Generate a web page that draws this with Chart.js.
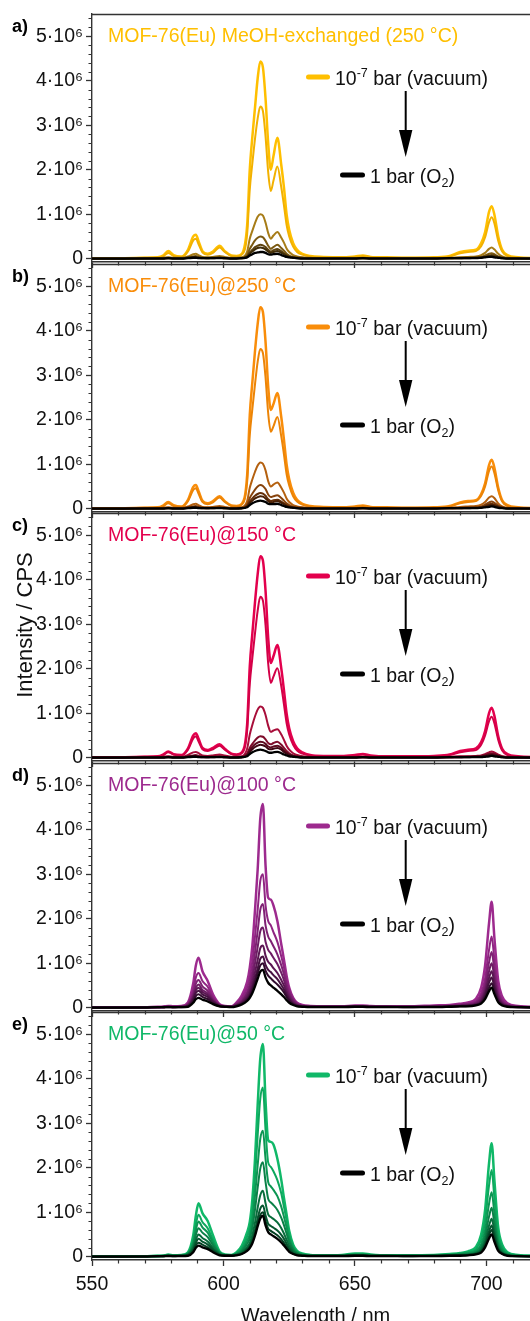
<!DOCTYPE html>
<html>
<head>
<meta charset="utf-8">
<script src="https://cdn.jsdelivr.net/npm/chart.js@4.4.1/dist/chart.umd.min.js"></script>
<style>
  html, body { margin: 0; padding: 0; background: #fff; overflow: hidden; width: 530px; height: 1321px; }
  #wrap { position: relative; width: 530px; height: 1321px; overflow: hidden; }
  #wrap canvas { position: absolute; left: 0; }
</style>
</head>
<body>
<div id="wrap"></div>
<script>
// Eu emission spectra of MOF-76(Eu), vacuum -> 1 bar O2. Intensities in 10^6 CPS.

const wavelength = [
  550, 560, 570, 575, 577, 579, 581, 584, 586.5, 588.5,
  589.5, 590.5, 592, 594, 596, 598.5, 600.5, 603, 605, 607,
  609, 610, 611, 612, 613, 614, 615, 616, 617, 618,
  619, 620.5, 622, 623, 624, 625, 626.5, 628, 630, 633,
  638, 645, 650, 653, 656, 662, 670, 680, 686, 690,
  693, 696, 698, 699.5, 701, 702, 703, 704.5, 706, 708,
  712, 720
];

const xTicks = [550, 600, 650, 700];
const xTickLabels = ['550', '600', '650', '700'];
const yTicks = [0, 1, 2, 3, 4, 5];
const yTickLabels = ['0', '1·10⁶', '2·10⁶', '3·10⁶', '4·10⁶', '5·10⁶'];

// a) MeOH-exchanged (250 °C)
const a1 = [.01,.01,.02,.03,.07,.17,.08,.05,.20,.50,
  .54,.40,.17,.11,.16,.29,.17,.07,.06,.11,
  .75,2.0,2.75,3.4,4.05,4.43,4.3,3.6,2.6,2.0,
  2.3,2.72,2.1,1.6,1.0,.65,.35,.2,.11,.06,
  .04,.03,.05,.07,.04,.03,.02,.03,.06,.15,
  .18,.2,.35,.6,1.05,1.18,1.0,.5,.2,.08,
  .03,.01];
const a2 = [.01,.01,.02,.02,.05,.13,.06,.04,.16,.41,
  .45,.33,.14,.09,.13,.25,.15,.06,.05,.09,
  .55,1.55,2.15,2.7,3.15,3.42,3.32,2.75,1.95,1.52,
  1.75,2.07,1.6,1.2,.76,.5,.27,.15,.09,.05,
  .03,.03,.04,.06,.04,.02,.02,.02,.05,.12,
  .15,.17,.28,.48,.82,.93,.8,.4,.16,.06,
  .02,.01];
const a3 = [.01,.01,.01,.01,.02,.03,.02,.02,.05,.10,
  .11,.08,.04,.03,.04,.06,.04,.02,.02,.03,
  .16,.45,.63,.8,.94,1.0,.97,.81,.58,.45,
  .52,.6,.47,.36,.23,.15,.08,.05,.03,.02,
  .01,.01,.01,.02,.01,.01,.01,.01,.02,.03,
  .04,.05,.08,.13,.22,.25,.21,.11,.05,.02,
  .01,.01];
const a4 = [.01,.01,.01,.01,.01,.02,.01,.01,.03,.05,
  .06,.04,.02,.02,.02,.03,.02,.01,.01,.02,
  .08,.22,.32,.41,.47,.5,.48,.4,.29,.22,
  .26,.31,.24,.18,.11,.07,.04,.03,.02,.01,
  .01,.01,.01,.01,.01,.01,.01,.01,.01,.02,
  .02,.03,.04,.07,.11,.12,.1,.05,.03,.01,
  .01,.01];
const a5 = [.01,.01,.01,.01,.01,.01,.01,.01,.02,.03,
  .04,.03,.02,.01,.02,.02,.01,.01,.01,.01,
  .05,.14,.2,.26,.29,.31,.3,.26,.2,.16,
  .19,.22,.17,.12,.08,.05,.03,.02,.01,.01,
  .01,.01,.01,.01,.01,.01,.01,.01,.01,.01,
  .02,.02,.03,.05,.07,.08,.07,.04,.02,.01,
  .01,.01];
const a6 = [0,0,.01,.01,.01,.01,.01,.01,.02,.03,
  .03,.02,.01,.01,.01,.02,.01,.01,.01,.01,
  .04,.11,.16,.21,.24,.25,.24,.21,.16,.13,
  .15,.17,.13,.1,.06,.04,.02,.01,.01,.01,
  .01,.01,.01,.01,.01,.01,.01,.01,.01,.01,
  .01,.02,.02,.04,.05,.06,.05,.03,.01,.01,
  .01,0];
const a7 = [0,0,0,0,0,.01,0,0,.01,.02,
  .02,.01,.01,.01,.01,.01,.01,0,0,.01,
  .03,.07,.1,.13,.14,.15,.15,.13,.1,.09,
  .1,.11,.08,.06,.04,.03,.02,.01,0,0,
  0,0,0,.01,0,0,0,0,.01,.01,
  .01,.01,.02,.03,.04,.04,.03,.02,.01,0,
  0,0];

// b) 250 °C
const b1 = [.01,.01,.02,.03,.07,.15,.08,.05,.20,.49,
  .53,.40,.18,.12,.17,.28,.17,.07,.06,.11,
  .75,2.1,2.85,3.55,4.15,4.53,4.42,3.75,2.75,2.22,
  2.35,2.6,2.05,1.55,1.0,.66,.36,.2,.11,.06,
  .04,.03,.05,.07,.04,.03,.02,.03,.06,.14,
  .17,.19,.33,.57,.98,1.1,.93,.47,.19,.08,
  .03,.01];
const b2 = [.01,.01,.02,.02,.05,.12,.06,.04,.17,.42,
  .46,.34,.15,.1,.14,.25,.15,.06,.05,.09,
  .6,1.65,2.25,2.8,3.3,3.59,3.5,2.95,2.15,1.73,
  1.85,2.06,1.62,1.22,.78,.52,.28,.16,.09,.05,
  .03,.03,.04,.06,.04,.02,.02,.02,.05,.12,
  .15,.17,.29,.5,.85,.95,.81,.41,.16,.06,
  .02,.01];
const b3 = [.01,.01,.01,.01,.02,.03,.02,.02,.05,.1,
  .11,.08,.04,.03,.04,.06,.04,.02,.02,.03,
  .17,.47,.66,.83,.97,1.04,1.01,.86,.62,.5,
  .54,.59,.47,.36,.23,.15,.08,.05,.03,.02,
  .01,.01,.01,.02,.01,.01,.01,.01,.02,.04,
  .05,.06,.09,.15,.25,.28,.24,.12,.05,.02,
  .01,.01];
const b4 = [.01,.01,.01,.01,.01,.02,.01,.01,.03,.05,
  .06,.04,.02,.02,.02,.03,.02,.01,.01,.02,
  .09,.24,.34,.43,.5,.53,.51,.44,.32,.26,
  .28,.3,.24,.18,.12,.08,.04,.03,.02,.01,
  .01,.01,.01,.01,.01,.01,.01,.01,.01,.02,
  .03,.03,.05,.09,.14,.16,.13,.07,.03,.01,
  .01,.01];
const b5 = [.01,.01,.01,.01,.01,.01,.01,.01,.02,.03,
  .04,.03,.02,.01,.02,.02,.01,.01,.01,.01,
  .06,.16,.23,.29,.33,.35,.34,.29,.21,.17,
  .19,.2,.16,.12,.08,.05,.03,.02,.01,.01,
  .01,.01,.01,.01,.01,.01,.01,.01,.01,.01,
  .02,.02,.03,.06,.1,.11,.09,.05,.02,.01,
  .01,.01];
const b6 = [0,0,.01,.01,.01,.01,.01,.01,.02,.03,
  .03,.02,.01,.01,.01,.02,.01,.01,.01,.01,
  .05,.13,.18,.23,.26,.28,.27,.23,.17,.14,
  .15,.17,.13,.1,.06,.04,.02,.01,.01,.01,
  .01,.01,.01,.01,.01,.01,.01,.01,.01,.01,
  .01,.02,.02,.04,.07,.08,.07,.04,.02,.01,
  .01,0];
const b7 = [0,0,0,0,0,.01,0,0,.01,.02,
  .02,.01,.01,.01,.01,.01,.01,0,0,.01,
  .03,.08,.12,.15,.17,.18,.17,.15,.11,.1,
  .1,.11,.08,.06,.04,.03,.02,.01,0,0,
  0,0,0,.01,0,0,0,0,.01,.01,
  .01,.01,.02,.03,.04,.05,.04,.02,.01,0,
  0,0];

// c) 150 °C
const c1 = [.01,.01,.02,.03,.07,.14,.08,.06,.21,.5,
  .55,.43,.22,.17,.22,.3,.2,.09,.07,.12,
  .75,2.05,2.8,3.5,4.12,4.53,4.43,3.75,2.7,2.13,
  2.28,2.53,2.0,1.52,1.0,.66,.37,.21,.12,.06,
  .04,.04,.06,.08,.05,.03,.03,.04,.07,.15,
  .18,.21,.35,.6,1.0,1.12,.95,.48,.2,.08,
  .03,.01];
const c2 = [.01,.01,.02,.02,.05,.12,.07,.05,.18,.43,
  .48,.37,.19,.15,.19,.27,.18,.08,.06,.1,
  .6,1.65,2.25,2.8,3.3,3.62,3.53,2.98,2.12,1.68,
  1.82,2.01,1.6,1.2,.78,.52,.29,.16,.09,.05,
  .03,.03,.05,.07,.04,.03,.02,.03,.06,.12,
  .15,.17,.29,.5,.82,.92,.78,.4,.16,.06,
  .02,.01];
const c3 = [.01,.01,.01,.01,.02,.03,.02,.02,.06,.12,
  .13,.1,.05,.04,.05,.07,.05,.02,.02,.03,
  .2,.52,.74,.93,1.08,1.15,1.12,.96,.72,.58,
  .61,.64,.52,.4,.27,.18,.1,.06,.03,.02,
  .01,.01,.01,.02,.01,.01,.01,.01,.02,.03,
  .03,.04,.05,.08,.12,.14,.12,.07,.03,.02,
  .01,.01];
const c4 = [.01,.01,.01,.01,.01,.02,.01,.01,.03,.05,
  .06,.04,.02,.02,.02,.03,.02,.01,.01,.02,
  .09,.22,.31,.39,.45,.48,.47,.41,.33,.3,
  .33,.36,.29,.22,.15,.1,.05,.03,.02,.01,
  .01,.01,.01,.01,.01,.01,.01,.01,.01,.02,
  .02,.03,.04,.06,.09,.1,.09,.05,.02,.01,
  .01,.01];
const c5 = [.01,.01,.01,.01,.01,.01,.01,.01,.02,.03,
  .04,.03,.02,.01,.02,.02,.01,.01,.01,.01,
  .07,.17,.24,.3,.34,.36,.35,.31,.25,.23,
  .25,.27,.22,.16,.11,.07,.04,.02,.01,.01,
  .01,.01,.01,.01,.01,.01,.01,.01,.01,.01,
  .02,.02,.03,.05,.07,.08,.07,.04,.02,.01,
  .01,.01];
const c6 = [0,0,.01,.01,.01,.01,.01,.01,.02,.03,
  .03,.02,.01,.01,.01,.02,.01,.01,.01,.01,
  .05,.13,.19,.24,.27,.29,.28,.25,.2,.19,
  .2,.22,.18,.13,.09,.06,.03,.02,.01,.01,
  .01,.01,.01,.01,.01,.01,.01,.01,.01,.01,
  .01,.02,.02,.04,.05,.06,.05,.03,.01,.01,
  .01,0];
const c7 = [0,0,0,0,0,.01,0,0,.01,.02,
  .02,.01,.01,.01,.01,.01,.01,0,0,.01,
  .03,.08,.12,.15,.17,.18,.17,.15,.12,.11,
  .12,.13,.1,.07,.05,.03,.02,.01,0,0,
  0,0,0,.01,0,0,0,0,.01,.01,
  .01,.01,.01,.02,.03,.04,.03,.02,.01,0,
  0,0];

// d) 100 °C
const d1 = [.01,.01,.01,.02,.02,.04,.03,.04,.12,.55,
  .95,1.12,.82,.6,.3,.08,.04,.03,.12,.28,
  .58,.9,1.4,2.2,3.1,4.25,4.58,3.2,2.47,2.43,
  2.3,1.95,1.42,1.08,.72,.45,.22,.11,.06,.04,
  .03,.03,.05,.05,.04,.03,.03,.05,.06,.09,
  .12,.2,.45,.95,1.9,2.38,1.6,.6,.25,.1,
  .04,.02];
const d2 = [.01,.01,.01,.01,.02,.03,.02,.03,.09,.4,
  .68,.78,.6,.47,.24,.07,.03,.03,.1,.22,
  .45,.68,1.05,1.6,2.2,2.85,3.0,2.3,1.95,1.85,
  1.7,1.48,1.15,.9,.62,.4,.2,.1,.05,.03,
  .03,.03,.04,.04,.03,.03,.02,.04,.05,.07,
  .09,.15,.32,.66,1.3,1.6,1.1,.42,.18,.07,
  .03,.01];
const d3 = [.01,.01,.01,.01,.02,.03,.02,.02,.07,.32,
  .54,.62,.48,.38,.2,.06,.03,.02,.08,.17,
  .36,.54,.83,1.25,1.72,2.2,2.33,1.85,1.6,1.5,
  1.38,1.2,.95,.75,.52,.34,.17,.08,.04,.03,
  .02,.02,.03,.03,.03,.02,.02,.03,.04,.06,
  .08,.12,.25,.52,1.02,1.25,.86,.33,.14,.06,
  .02,.01];
const d4 = [.01,.01,.01,.01,.01,.02,.02,.02,.06,.27,
  .45,.52,.4,.32,.17,.05,.03,.02,.07,.14,
  .3,.44,.67,1.0,1.36,1.72,1.8,1.48,1.3,1.22,
  1.12,.98,.78,.62,.43,.28,.14,.07,.04,.02,
  .02,.02,.03,.03,.02,.02,.02,.03,.03,.05,
  .06,.1,.2,.42,.82,1.0,.69,.27,.11,.05,
  .02,.01];
const d5 = [.01,.01,.01,.01,.01,.02,.01,.02,.05,.23,
  .39,.45,.35,.28,.15,.05,.02,.02,.06,.12,
  .25,.36,.54,.8,1.07,1.34,1.4,1.17,1.03,.97,
  .89,.78,.62,.5,.35,.23,.11,.06,.03,.02,
  .02,.02,.02,.02,.02,.02,.02,.02,.03,.04,
  .05,.08,.16,.35,.67,.82,.57,.22,.09,.04,
  .02,.01];
const d6 = [.01,.01,.01,.01,.01,.02,.01,.02,.04,.19,
  .33,.38,.3,.24,.13,.04,.02,.02,.05,.1,
  .21,.3,.45,.66,.88,1.1,1.15,.96,.85,.8,
  .73,.64,.51,.41,.29,.19,.09,.05,.03,.02,
  .02,.02,.02,.02,.02,.02,.02,.02,.03,.04,
  .05,.07,.13,.29,.56,.68,.47,.18,.08,.03,
  .01,.01];
const d7 = [0,0,.01,.01,.01,.01,.01,.01,.03,.15,
  .26,.3,.24,.19,.1,.03,.02,.02,.04,.09,
  .18,.26,.39,.57,.77,.95,1.0,.83,.72,.66,
  .6,.52,.42,.34,.24,.16,.08,.04,.02,.02,
  .02,.02,.02,.02,.02,.02,.01,.02,.02,.03,
  .04,.06,.11,.24,.45,.55,.38,.15,.06,.03,
  .01,.01];
const d8 = [0,0,0,.01,.01,.01,.01,.01,.02,.11,
  .19,.22,.18,.14,.08,.03,.02,.01,.03,.07,
  .15,.22,.33,.48,.65,.81,.85,.68,.56,.5,
  .45,.38,.3,.24,.17,.11,.06,.03,.02,.01,
  .01,.01,.02,.02,.01,.01,.01,.01,.02,.03,
  .03,.05,.09,.19,.37,.45,.31,.12,.05,.02,
  .01,0];

// e) 50 °C
const e1 = [.01,.01,.01,.02,.02,.05,.03,.04,.1,.48,
  .92,1.2,.98,.8,.48,.12,.05,.04,.1,.25,
  .55,.78,1.3,2.2,3.4,4.45,4.78,3.5,2.62,2.58,
  2.52,2.2,1.72,1.32,.95,.58,.27,.13,.07,.04,
  .03,.04,.07,.07,.05,.03,.03,.04,.06,.08,
  .12,.22,.5,1.05,2.1,2.55,1.75,.65,.27,.1,
  .04,.02];
const e2 = [.01,.01,.01,.02,.02,.04,.03,.03,.08,.37,
  .72,.94,.78,.64,.38,.1,.04,.03,.08,.2,
  .45,.64,1.06,1.78,2.72,3.55,3.8,2.85,2.12,2.02,
  1.92,1.72,1.42,1.12,.82,.5,.23,.11,.06,.03,
  .03,.03,.06,.06,.04,.03,.03,.03,.05,.07,
  .1,.17,.38,.8,1.6,1.95,1.34,.5,.21,.08,
  .03,.01];
const e3 = [.01,.01,.01,.01,.02,.04,.02,.03,.07,.31,
  .6,.79,.66,.54,.32,.09,.04,.03,.07,.16,
  .36,.51,.83,1.38,2.05,2.65,2.83,2.2,1.68,1.58,
  1.5,1.36,1.12,.9,.66,.41,.19,.09,.05,.03,
  .02,.03,.05,.05,.04,.03,.02,.03,.04,.06,
  .08,.13,.28,.6,1.19,1.45,1.0,.37,.16,.06,
  .02,.01];
const e4 = [.01,.01,.01,.01,.02,.03,.02,.03,.06,.26,
  .49,.64,.54,.44,.26,.08,.03,.03,.06,.13,
  .29,.41,.66,1.06,1.55,1.98,2.12,1.68,1.3,1.22,
  1.16,1.05,.87,.71,.52,.33,.16,.08,.04,.02,
  .02,.02,.04,.04,.03,.02,.02,.02,.03,.05,
  .06,.1,.21,.46,.9,1.1,.76,.28,.12,.05,
  .02,.01];
const e5 = [.01,.01,.01,.01,.01,.03,.02,.02,.05,.2,
  .38,.5,.42,.34,.2,.06,.03,.02,.05,.1,
  .22,.31,.49,.77,1.1,1.38,1.48,1.2,.95,.89,
  .85,.77,.64,.52,.38,.25,.12,.06,.03,.02,
  .02,.02,.03,.03,.02,.02,.02,.02,.03,.04,
  .05,.08,.16,.35,.7,.85,.59,.22,.09,.04,
  .02,.01];
const e6 = [.01,.01,.01,.01,.01,.02,.02,.02,.04,.16,
  .31,.4,.34,.27,.16,.05,.03,.02,.04,.08,
  .18,.25,.39,.6,.86,1.08,1.15,.93,.74,.69,
  .65,.59,.49,.4,.29,.19,.09,.05,.03,.02,
  .02,.02,.03,.03,.02,.02,.02,.02,.02,.03,
  .04,.07,.13,.29,.57,.7,.48,.18,.08,.03,
  .01,.01];
const e7 = [0,0,.01,.01,.01,.02,.01,.02,.03,.13,
  .25,.31,.27,.21,.13,.04,.02,.02,.04,.07,
  .15,.22,.34,.52,.75,.94,1.0,.8,.63,.58,
  .54,.48,.39,.31,.22,.14,.07,.04,.02,.02,
  .02,.02,.02,.02,.02,.02,.01,.02,.02,.03,
  .04,.06,.11,.25,.49,.6,.41,.16,.07,.03,
  .01,.01];
const e8 = [0,0,0,.01,.01,.01,.01,.01,.02,.1,
  .2,.25,.21,.17,.1,.03,.02,.02,.03,.06,
  .13,.19,.3,.47,.68,.86,.92,.7,.55,.5,
  .46,.4,.32,.25,.18,.11,.06,.03,.02,.01,
  .01,.01,.02,.02,.01,.01,.01,.01,.02,.02,
  .03,.05,.09,.21,.41,.5,.34,.13,.06,.02,
  .01,0];

const FONT = "'Liberation Sans', Arial, sans-serif";
const INK = '#111';
const AXIS = '#333';

const panels = [
  { tag: 'a)', title: 'MOF-76(Eu) MeOH-exchanged (250 °C)', color: '#FFBF00',
    series: [a1, a2, a3, a4, a5, a6, a7],
    colors: ['#FFBF00', '#F2B100', '#A77C17', '#7C5A12', '#5E430E', '#3F2C08', '#000000'] },
  { tag: 'b)', title: 'MOF-76(Eu)@250 °C', color: '#F98D0A',
    series: [b1, b2, b3, b4, b5, b6, b7],
    colors: ['#F98D0A', '#EC8406', '#B4600F', '#87430C', '#663009', '#461F05', '#000000'] },
  { tag: 'c)', title: 'MOF-76(Eu)@150 °C', color: '#E3004D',
    series: [c1, c2, c3, c4, c5, c6, c7],
    colors: ['#E3004D', '#D30047', '#A80E3A', '#7F0D2B', '#5E0A1F', '#3F0713', '#000000'] },
  { tag: 'd)', title: 'MOF-76(Eu)@100 °C', color: '#9D2A8E',
    series: [d1, d2, d3, d4, d5, d6, d7, d8],
    colors: ['#9D2A8E', '#8E2581', '#7E2173', '#6D1C64', '#5B1753', '#471242', '#310C2E', '#000000'] },
  { tag: 'e)', title: 'MOF-76(Eu)@50 °C', color: '#10B868',
    series: [e1, e2, e3, e4, e5, e6, e7, e8],
    colors: ['#10B868', '#0EA75D', '#0C9552', '#0A8147', '#086C3B', '#06562F', '#043F22', '#000000'] }
];

const canvasTops = [0, 250, 499, 749, 998];

function richText(ctx, parts, x, y) {
  for (const [txt, kind] of parts) {
    if (kind === 0) { ctx.font = '19.5px ' + FONT; ctx.fillText(txt, x, y); }
    else if (kind === 1) { ctx.font = '12.5px ' + FONT; ctx.fillText(txt, x, y - 7.5); }
    else { ctx.font = '12.5px ' + FONT; ctx.fillText(txt, x, y + 4); }
    x += ctx.measureText(txt).width;
  }
}

const frameTicks = {
  id: 'frameTicks',
  afterDraw(chart) {
    const { ctx, chartArea: ca, scales: { x, y } } = chart;
    ctx.save();
    ctx.strokeStyle = AXIS;
    ctx.lineWidth = 1.2;
    ctx.beginPath();
    for (let i = 1; i < 28; i++) {
      if (i % 5 === 0) continue;
      const py = Math.round(y.getPixelForValue(i * 0.2)) + 0.5;
      ctx.moveTo(ca.left, py); ctx.lineTo(ca.left - 3.5, py);
    }
    for (let v = 560; v < 720; v += 10) {
      if (v % 50 === 0) continue;
      const px = Math.round(x.getPixelForValue(v)) + 0.5;
      ctx.moveTo(px, ca.bottom); ctx.lineTo(px, ca.bottom + 3.5);
    }
    ctx.stroke();
    ctx.lineWidth = 1.4;
    ctx.beginPath();
    ctx.moveTo(ca.left, ca.top + 0.5); ctx.lineTo(ca.right, ca.top + 0.5);
    ctx.stroke();
    ctx.restore();
  }
};

const panelText = {
  id: 'panelText',
  afterDraw(chart, args, o) {
    const ctx = chart.ctx;
    const t = chart.chartArea.top;
    ctx.save();
    ctx.textAlign = 'left';
    ctx.textBaseline = 'alphabetic';
    ctx.fillStyle = '#000';
    ctx.font = 'bold 18px ' + FONT;
    ctx.fillText(o.tag, 12, t + 18);
    ctx.fillStyle = o.color;
    ctx.font = '19.5px ' + FONT;
    ctx.fillText(o.title, 108, t + 27.5);

    ctx.lineCap = 'round';
    ctx.lineWidth = 5;
    ctx.strokeStyle = o.color;
    ctx.beginPath(); ctx.moveTo(308.5, t + 63); ctx.lineTo(327.5, t + 63); ctx.stroke();
    ctx.strokeStyle = '#000';
    ctx.beginPath(); ctx.moveTo(342.5, t + 161); ctx.lineTo(362.5, t + 161); ctx.stroke();

    ctx.fillStyle = INK;
    richText(ctx, [['10', 0], ['-7', 1], [' bar (vacuum)', 0]], 335, t + 70.5);
    richText(ctx, [['1 bar (O', 0], ['2', 2], [')', 0]], 370, t + 168.5);

    ctx.lineCap = 'butt';
    ctx.lineWidth = 2;
    ctx.strokeStyle = '#000';
    ctx.fillStyle = '#000';
    ctx.beginPath(); ctx.moveTo(405.7, t + 77); ctx.lineTo(405.7, t + 118); ctx.stroke();
    ctx.beginPath();
    ctx.moveTo(399, t + 116); ctx.lineTo(412.4, t + 116); ctx.lineTo(405.7, t + 143);
    ctx.closePath(); ctx.fill();

    if (o.yTitle) {
      ctx.translate(32, 625 - o.top);
      ctx.rotate(-Math.PI / 2);
      ctx.textAlign = 'center';
      ctx.fillStyle = INK;
      ctx.font = '22px ' + FONT;
      ctx.fillText('Intensity / CPS', 0, 0);
    }
    ctx.restore();
  }
};

const wrap = document.getElementById('wrap');

panels.forEach((p, pi) => {
  const last = pi === panels.length - 1;
  const H = last ? 340 : 268;
  const cv = document.createElement('canvas');
  cv.width = 545; cv.height = H;
  cv.style.width = '545px'; cv.style.height = H + 'px';
  cv.style.top = canvasTops[pi] + 'px';
  wrap.appendChild(cv);

  const n = p.series.length;
  const datasets = p.series.map((vals, j) => ({
    data: vals.map((v, i) => ({ x: wavelength[i], y: v })),
    borderColor: p.colors[j],
    borderWidth: j === 0 ? 2.5 : (j === n - 1 ? 2.3 : 2),
    pointRadius: 0,
    cubicInterpolationMode: 'monotone',
    borderJoinStyle: 'round',
    fill: false,
    order: n - 1 - j
  }));

  new Chart(cv.getContext('2d'), {
    type: 'line',
    data: { datasets },
    plugins: [frameTicks, panelText],
    options: {
      responsive: false,
      devicePixelRatio: 1,
      animation: false,
      events: [],
      layout: { padding: { top: 14, right: 6, bottom: 0, left: 0 } },
      plugins: {
        legend: { display: false },
        tooltip: { enabled: false },
        panelText: { tag: p.tag, title: p.title, color: p.color, yTitle: pi === 2, top: canvasTops[pi] }
      },
      scales: {
        x: {
          type: 'linear', min: 550, max: 720,
          afterBuildTicks(s) { s.ticks = xTicks.map(v => ({ value: v })); },
          afterFit(s) {
            s.height = last ? H - 14 - 248 : 6;
            s.paddingLeft = s.paddingRight = s.paddingTop = s.paddingBottom = 0;
          },
          ticks: {
            display: last, autoSkip: false, maxRotation: 0, padding: 7,
            callback: v => xTickLabels[xTicks.indexOf(v)],
            font: { family: FONT, size: 19.5 }, color: INK
          },
          grid: { drawOnChartArea: false, tickLength: 6, tickColor: AXIS, tickWidth: 1.3 },
          border: { color: AXIS, width: 1.4 },
          title: {
            display: last, text: 'Wavelength / nm', color: INK,
            font: { family: FONT, size: 20 }, padding: { top: 0, bottom: 10 }
          }
        },
        y: {
          type: 'linear', min: -0.075, max: 5.5,
          afterBuildTicks(s) { s.ticks = yTicks.map(v => ({ value: v })); },
          afterFit(s) {
            s.width = 92;
            s.paddingLeft = s.paddingRight = s.paddingTop = s.paddingBottom = 0;
          },
          ticks: {
            padding: 3,
            callback: v => yTickLabels[yTicks.indexOf(v)],
            font: { family: FONT, size: 19.5 }, color: INK
          },
          grid: { drawOnChartArea: false, tickLength: 6, tickColor: AXIS, tickWidth: 1.3 },
          border: { color: AXIS, width: 1.4 }
        }
      }
    }
  });
});
</script>
</body>
</html>
